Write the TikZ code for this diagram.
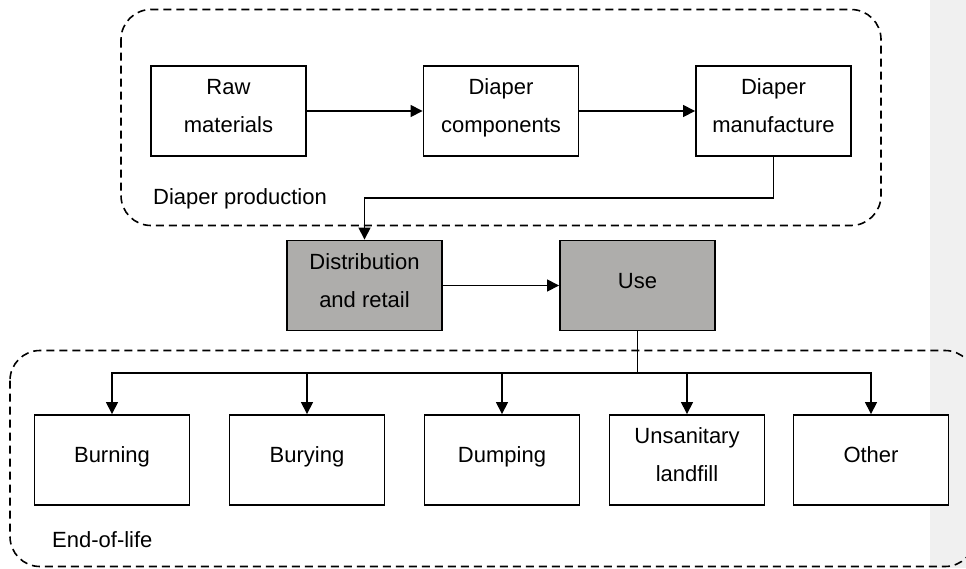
\documentclass[tikz,border=0pt]{standalone}
\usepackage{fontspec}
\setmainfont{Liberation Sans}
\usetikzlibrary{arrows.meta}
\definecolor{boxgray}{HTML}{AEADAB}
\definecolor{marginband}{HTML}{F0F0F0}
\newcommand\lnstrut{\rule[-11pt]{0pt}{27pt}}
\begin{document}
\begin{tikzpicture}[x=1pt,y=-1pt,
  stagebox/.style={draw, line width=1.9pt, fill=white, minimum width=155pt, minimum height=90pt, inner sep=0pt, align=center, font=\fontsize{22}{38}\selectfont},
  graybox/.style={stagebox, fill=boxgray},
  groupframe/.style={draw, line width=1.6pt, dash pattern=on 8pt off 5pt, rounded corners=30pt},
  grouplabel/.style={anchor=base west, inner sep=0pt, font=\fontsize{22}{26}\selectfont},
  flow/.style={draw, line width=1.5pt, -{Triangle[length=12pt,width=12pt]}},
  link/.style={draw, line width=1.5pt}]
\useasboundingbox (0,0) rectangle (966,568);
\clip (0,0) rectangle (966,568);
\fill[marginband] (930,0) rectangle (966,568);
% groups
\draw[groupframe] (121,9.5) rectangle (881,225.5);
\draw[groupframe] (10,350.5) rectangle (975,566.5);
\node[grouplabel] (prodlabel) at (153,204) {Diaper production};
\node[grouplabel] (eollabel) at (52,547) {End-of-life};
% production
\node[stagebox] (raw)  at (228.5,111) {Raw\lnstrut\\materials\lnstrut};
\node[stagebox] (comp) at (501,111)   {Diaper\lnstrut\\components\lnstrut};
\node[stagebox] (manu) at (773.5,111) {Diaper\lnstrut\\manufacture\lnstrut};
% middle
\node[graybox] (dist) at (364.5,285.5) {Distribution\lnstrut\\and retail\lnstrut};
\node[graybox] (use)  at (637.5,285.5) {Use\lnstrut};
% end of life
\node[stagebox] (burn)  at (112,460) {Burning\lnstrut};
\node[stagebox] (bury)  at (307,460) {Burying\lnstrut};
\node[stagebox] (dump)  at (502,460) {Dumping\lnstrut};
\node[stagebox] (unsan) at (687,460) {Unsanitary\lnstrut\\landfill\lnstrut};
\node[stagebox] (other) at (871,460) {Other\lnstrut};
% connectors
\draw[flow] (raw) -- (comp);
\draw[flow] (comp) -- (manu);
\coordinate (turn) at (773.5,198);
\draw[flow] (manu.south) -- (turn) -| (dist.north);
\draw[flow] (dist) -- (use);
\coordinate (bus) at (637.5,373);
\draw[link] (use.south) -- (bus);
\draw[flow] (bus) -| (burn.north);
\draw[flow] (bus) -| (bury.north);
\draw[flow] (bus) -| (dump.north);
\draw[flow] (bus) -| (unsan.north);
\draw[flow] (bus) -| (other.north);
\end{tikzpicture}
\end{document}
